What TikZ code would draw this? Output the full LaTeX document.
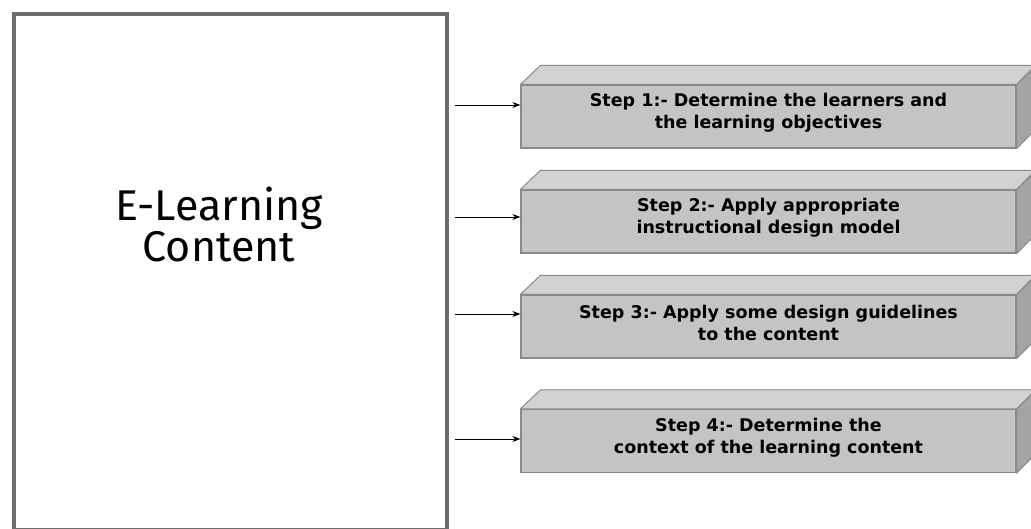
\documentclass[tikz,border=0pt]{standalone}
\usepackage{fontspec}
\setmainfont{Fira Sans}
\newfontfamily\stepfont{DejaVu Sans}
\usetikzlibrary{arrows.meta}
\definecolor{frontgray}{HTML}{C4C4C4}
\definecolor{topgray}{HTML}{D2D2D2}
\definecolor{sidegray}{HTML}{A4A4A4}
\definecolor{edgegray}{HTML}{8A8A8A}
\tikzset{
  stepbox/.style={draw=edgegray, line width=1.2pt, fill=frontgray,
    minimum width=495pt, minimum height=63pt, inner sep=0pt,
    align=center, font=\stepfont\fontsize{17.5}{22}\selectfont\bfseries},
  topface/.style={draw=edgegray, line width=1pt, fill=topgray, line join=round},
  sideface/.style={draw=edgegray, line width=1pt, fill=sidegray, line join=round},
  link/.style={-{Stealth[length=8pt,width=6pt]}, line width=0.9pt, black},
  contentbox/.style={draw=gray!85!black, line width=3.5pt, fill=white,
    minimum width=433pt, minimum height=516pt, inner sep=0pt}
}
\begin{document}
\begin{tikzpicture}[x=1pt, y=-1pt]
  \useasboundingbox (0,0) rectangle (1031,529);
  % main content panel
  \node[contentbox] (content) at (230.5,272) {};
  \node[font=\fontsize{43}{41}\selectfont, align=center] (title) at (219,224) {E-Learning\\Content};
  % step boxes with top and side faces
  \foreach \name/\yc/\ya/\txt in {
      s1/116.5/105/{Step 1:- Determine the learners and\\the learning objectives},
      s2/221.5/217/{Step 2:- Apply appropriate\\instructional design model},
      s3/326.5/314/{Step 3:- Apply some design guidelines\\to the content},
      s4/441/439/{Step 4:- Determine the\\context of the learning content}} {
    \node[stepbox] (\name) at (768.5,\yc) {};
    \draw[topface] (\name.north west) -- ++(20,-19) -- ++(495,0) -- (\name.north east) -- cycle;
    \draw[sideface] (\name.north east) -- ++(20,-19) -- ++(0,63) -- (\name.south east) -- cycle;
    \node[stepbox, draw=none, fill=none] (\name text) at ([yshift=3.5pt]\name.center) {\txt};
    \coordinate (\name src) at (455,\ya);
    \draw[link] (\name src) -- (\name.west |- \name src);
  }
\end{tikzpicture}
\end{document}
